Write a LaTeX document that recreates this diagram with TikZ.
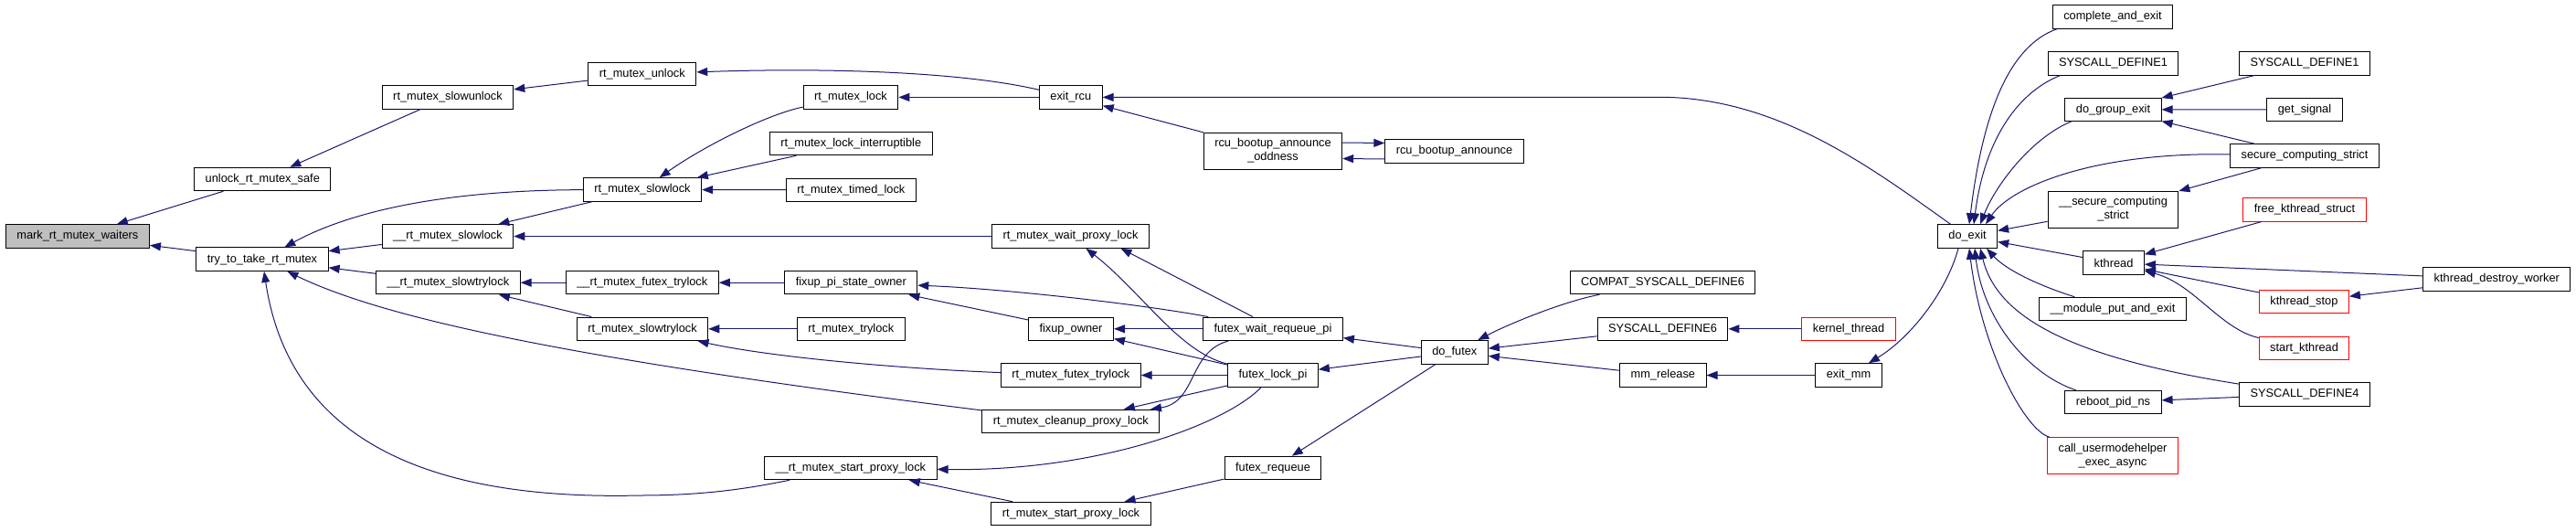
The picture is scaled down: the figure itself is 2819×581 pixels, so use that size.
\documentclass[tikz,border=0pt]{standalone}
\usepackage{fontspec}
\setmainfont{Liberation Sans}
\usetikzlibrary{arrows.meta}
\definecolor{midblue}{RGB}{25,25,112}
\definecolor{cutred}{RGB}{255,0,0}
\definecolor{markgray}{RGB}{191,191,191}
\begin{document}
\begin{tikzpicture}[x=1pt,y=-1pt,
  fn/.style={draw,rectangle,line width=1pt,fill=white,inner xsep=12pt,inner ysep=0pt,
    minimum height=25.5pt,font=\fontsize{12.8}{15}\selectfont},
  fntwo/.style={fn,align=center,minimum height=40pt},
  cut/.style={draw=cutred},
  call/.style={midblue,line width=1pt,{Triangle[length=12pt,width=9pt]}-}]
\useasboundingbox (0,0) rectangle (2819,581);

\node[fn,fill=markgray] (mark) at (84.9,258.5) {mark\_rt\_mutex\_waiters};
\node[fn] (unsafe) at (287.3,196) {unlock\_rt\_mutex\_safe};
\node[fn] (trytake) at (287,283.7) {try\_to\_take\_rt\_mutex};
\node[fn] (slowunl) at (490,106.4) {rt\_mutex\_slowunlock};
\node[fn] (uslowlk) at (490,258.5) {\_\_rt\_mutex\_slowlock};
\node[fn] (uslowtry) at (490.3,309.2) {\_\_rt\_mutex\_slowtrylock};
\node[fn] (unlock) at (702.8,81) {rt\_mutex\_unlock};
\node[fn] (slowlk) at (703,207.5) {rt\_mutex\_slowlock};
\node[fn] (ufutextry) at (702.8,309.2) {\_\_rt\_mutex\_futex\_trylock};
\node[fn] (slowtry) at (703,359.8) {rt\_mutex\_slowtrylock};
\node[fn] (lock) at (931,106.4) {rt\_mutex\_lock};
\node[fn] (lockint) at (931.3,157) {rt\_mutex\_lock\_interruptible};
\node[fn] (timedlk) at (931.3,207.8) {rt\_mutex\_timed\_lock};
\node[fn] (fixpi) at (931.3,309.2) {fixup\_pi\_state\_owner};
\node[fn] (trylock) at (931.3,359.8) {rt\_mutex\_trylock};
\node[fn] (ustartpx) at (930.9,512) {\_\_rt\_mutex\_start\_proxy\_lock};
\node[fn] (exitrcu) at (1171.8,106.4) {exit\_rcu};
\node[fn] (waitpx) at (1171.5,258.5) {rt\_mutex\_wait\_proxy\_lock};
\node[fn] (fixown) at (1172,359.8) {fixup\_owner};
\node[fn] (futextry) at (1171.8,410.5) {rt\_mutex\_futex\_trylock};
\node[fn] (cleanpx) at (1171.8,461) {rt\_mutex\_cleanup\_proxy\_lock};
\node[fn] (startpx) at (1172,562) {rt\_mutex\_start\_proxy\_lock};
\node[fntwo] (oddness) at (1393,165) {rcu\_bootup\_announce\\\_oddness};
\node[fn] (fwrp) at (1393,359.8) {futex\_wait\_requeue\_pi};
\node[fn] (flpi) at (1393,410.5) {futex\_lock\_pi};
\node[fn] (freq) at (1393,512) {futex\_requeue};
\node[fn] (bootann) at (1591.5,165.5) {rcu\_bootup\_announce};
\node[fn] (dofutex) at (1591.8,385.3) {do\_futex};
\node[fn] (compat6) at (1819.5,309) {COMPAT\_SYSCALL\_DEFINE6};
\node[fn] (sys6) at (1819.5,359.8) {SYSCALL\_DEFINE6};
\node[fn] (mmrel) at (1819.8,410.5) {mm\_release};
\node[fn,cut] (kthr) at (2023,359.8) {kernel\_thread};
\node[fn] (exitmm) at (2023,410.5) {exit\_mm};
\node[fn] (doexit) at (2153,258.5) {do\_exit};
\node[fn] (compexit) at (2312,18.5) {complete\_and\_exit};
\node[fn] (sys1a) at (2312.5,69.3) {SYSCALL\_DEFINE1};
\node[fn] (grpexit) at (2312.5,119.8) {do\_group\_exit};
\node[fntwo] (usecure) at (2312.5,229) {\_\_secure\_computing\\\_strict};
\node[fn] (kthread) at (2313,287.7) {kthread};
\node[fn] (modput) at (2312,338) {\_\_module\_put\_and\_exit};
\node[fn] (reboot) at (2312.5,440) {reboot\_pid\_ns};
\node[fntwo,cut] (umh) at (2312,498.7) {call\_usermodehelper\\\_exec\_async};
\node[fn] (sys1b) at (2522,69.3) {SYSCALL\_DEFINE1};
\node[fn] (getsig) at (2522,120) {get\_signal};
\node[fn] (secure) at (2522,170.5) {secure\_computing\_strict};
\node[fn,cut] (freekt) at (2522,229.4) {free\_kthread\_struct};
\node[fn,cut] (ktstop) at (2521.4,330) {kthread\_stop};
\node[fn,cut] (startkt) at (2521.5,381) {start\_kthread};
\node[fn] (sys4) at (2522,431.5) {SYSCALL\_DEFINE4};
\node[fn] (ktdestroy) at (2732.3,305.3) {kthread\_destroy\_worker};

\draw[call] (mark) -- (unsafe);
\draw[call] (mark) -- (trytake);
\draw[call] (unsafe) -- (slowunl);
\draw[call] (slowunl) -- (unlock);
\draw[call] (unlock) .. controls (900,74) and (1050,78) .. (exitrcu);
\draw[call] (lock) -- (exitrcu);
\draw[call] (exitrcu) -- (1825,106.4) .. controls (1950,110) and (2050,185) .. (doexit);
\draw[call] (exitrcu) -- (oddness);
\draw[call] ([yshift=9pt]bootann.west) -- ([yshift=9pt]oddness.east);
\draw[call] ([yshift=-8.5pt]oddness.east) -- ([yshift=-8.5pt]bootann.west);
\draw[call] (trytake) .. controls (380,233) and (480,208) .. (slowlk);
\draw[call] (trytake) -- (uslowlk);
\draw[call] (trytake) -- (uslowtry);
\draw[call] (trytake) .. controls (420,348) and (620,392) .. (cleanpx);
\draw[call] (trytake) .. controls (315,470) and (450,548) .. (700,542) .. controls (780,542) and (830,532) .. (ustartpx);
\draw[call] (uslowlk) -- (slowlk);
\draw[call] (uslowlk) -- (waitpx);
\draw[call] (slowlk) .. controls (770,160) and (840,125) .. (lock);
\draw[call] (slowlk) -- (lockint);
\draw[call] (slowlk) -- (timedlk);
\draw[call] (uslowtry) -- (ufutextry);
\draw[call] (uslowtry) -- (slowtry);
\draw[call] (ufutextry) -- (fixpi);
\draw[call] (slowtry) -- (trylock);
\draw[call] (slowtry) .. controls (850,392) and (1000,404) .. (futextry);
\draw[call] (fixpi) -- (fixown);
\draw[call] (fixpi) .. controls (1100,316) and (1250,333) .. (fwrp);
\draw[call] (fixown) -- (fwrp);
\draw[call] (fixown) -- (flpi);
\draw[call] (futextry) -- (flpi);
\draw[call] (cleanpx) -- (flpi);
\draw[call] (cleanpx) .. controls (1310,440) and (1300,385) .. (fwrp);
\draw[call] ([xshift=55pt]waitpx.south) -- ([xshift=-22pt]fwrp.north);
\draw[call] (waitpx) .. controls (1250,320) and (1290,385) .. (flpi);
\draw[call] (ustartpx) .. controls (1200,516) and (1340,465) .. (flpi);
\draw[call] (ustartpx) -- (startpx);
\draw[call] (startpx) -- (freq);
\draw[call] (fwrp) -- (dofutex);
\draw[call] (flpi) -- (dofutex);
\draw[call] (freq) -- (dofutex);
\draw[call] (dofutex) .. controls (1650,355) and (1710,330) .. (compat6);
\draw[call] (dofutex) -- (sys6);
\draw[call] (dofutex) -- (mmrel);
\draw[call] (sys6) -- (kthr);
\draw[call] (mmrel) -- (exitmm);
\draw[call] (exitmm) .. controls (2090,370) and (2130,320) .. ([xshift=-10pt]doexit.south);
\draw[call] ([xshift=2pt]doexit.north) .. controls (2170,120) and (2200,50) .. ([xshift=5pt]compexit.south west);
\draw[call] ([xshift=7pt]doexit.north) .. controls (2172,150) and (2210,100) .. ([xshift=14pt]sys1a.south west);
\draw[call] ([xshift=14pt]doexit.north) .. controls (2185,200) and (2225,150) .. ([xshift=7pt]grpexit.south west);
\draw[call] ([xshift=20pt]doexit.north) .. controls (2200,205) and (2290,166) .. (secure);
\draw[call] (doexit) -- (usecure);
\draw[call] (doexit) -- (kthread);
\draw[call] ([xshift=21pt]doexit.south) .. controls (2195,295) and (2230,312) .. (modput);
\draw[call] ([xshift=14pt]doexit.south) .. controls (2185,345) and (2260,390) .. (sys4);
\draw[call] ([xshift=8pt]doexit.south) .. controls (2170,350) and (2220,410) .. (reboot);
\draw[call] ([xshift=2pt]doexit.south) .. controls (2168,380) and (2215,470) .. (umh);
\draw[call] (grpexit) -- (sys1b);
\draw[call] (grpexit) -- (getsig);
\draw[call] (grpexit) -- (secure);
\draw[call] (usecure) -- (secure);
\draw[call] (kthread) -- (freekt);
\draw[call] (kthread) -- (ktdestroy);
\draw[call] (kthread) -- (ktstop);
\draw[call] (kthread) .. controls (2400,310) and (2430,360) .. (startkt);
\draw[call] (ktstop) -- (ktdestroy);
\draw[call] (reboot) -- (sys4);
\end{tikzpicture}
\end{document}
